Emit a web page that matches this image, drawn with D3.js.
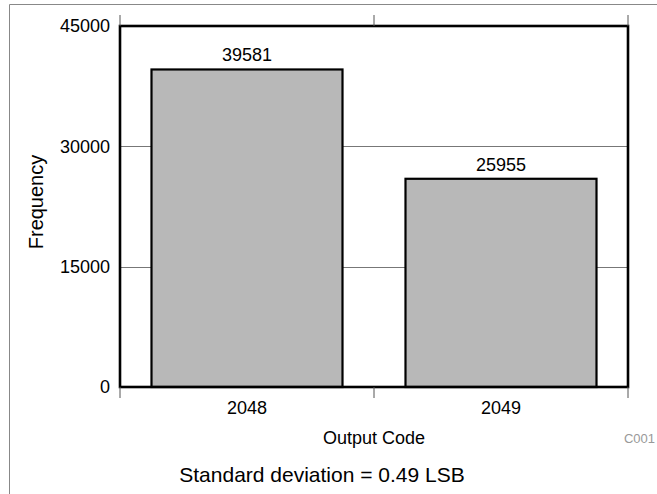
<!DOCTYPE html>
<html><head><meta charset="utf-8">
<script src="https://cdn.jsdelivr.net/npm/d3@7"></script>
<style>body{margin:0;background:#fff}svg{display:block}text{font-family:"Liberation Sans",Arial,sans-serif;fill:#000}</style>
</head><body>
<script>
const categories = ["2048", "2049"];
const frequencies = [39581, 25955];
const yTicks = [0, 15000, 30000, 45000];
const xTitle = "Output Code";
const yTitle = "Frequency";
const footnote = "Standard deviation = 0.49 LSB";
const chartId = "C001";

const W = 657, H = 494;
const m = {left:120, right:29, top:26, bottom:107};
const svg = d3.select("body").append("svg").attr("width", W).attr("height", H);

// outer frame (left and top only visible)
svg.append("line").attr("x1",9.5).attr("x2",9.5).attr("y1",4.5).attr("y2",H).attr("stroke","#888").attr("stroke-width",1);
svg.append("line").attr("x1",9.5).attr("x2",W).attr("y1",4.5).attr("y2",4.5).attr("stroke","#888").attr("stroke-width",1);

const x = d3.scaleBand().domain(categories).range([m.left, W-m.right]).paddingInner(0.248).paddingOuter(0.124);
const y = d3.scaleLinear().domain([0,45000]).range([H-m.bottom, m.top]);
const x0 = m.left, x1 = W-m.right, y0 = H-m.bottom, y1 = m.top;

// gridlines
svg.append("g").selectAll("line").data(yTicks.filter(t=>t>0 && t<45000)).join("line")
  .attr("x1",x0).attr("x2",x1).attr("y1",d=>Math.round(y(d))+0.5).attr("y2",d=>Math.round(y(d))+0.5)
  .attr("stroke","#777").attr("stroke-width",1);

// bars
svg.append("g").selectAll("rect").data(frequencies).join("rect")
  .attr("x",(d,i)=>x(categories[i])).attr("width",x.bandwidth())
  .attr("y",d=>y(d)).attr("height",d=>y(0)-y(d))
  .attr("fill","#b8b8b8").attr("stroke","#000").attr("stroke-width",2.2);

// value labels
svg.append("g").selectAll("text").data(frequencies).join("text")
  .attr("x",(d,i)=>x(categories[i])+x.bandwidth()/2).attr("y",d=>y(d)-8)
  .attr("text-anchor","middle").attr("font-size",18).text(d=>d);

// plot frame
svg.append("rect").attr("x",x0).attr("y",y1).attr("width",x1-x0).attr("height",y0-y1)
  .attr("fill","none").attr("stroke","#000").attr("stroke-width",2.6);

// y axis
const yAxis = d3.axisLeft(y).tickValues(yTicks).tickSize(0).tickPadding(10).tickFormat(d3.format("d"));
const gy = svg.append("g").attr("transform",`translate(${x0},0)`).call(yAxis);
gy.select(".domain").remove();
gy.selectAll("text").attr("font-size",18).attr("font-family",null);

// x axis labels at band centres
const xAxis = d3.axisBottom(x).tickSize(0).tickPadding(14);
const gx = svg.append("g").attr("transform",`translate(0,${y0})`).call(xAxis);
gx.select(".domain").remove();
gx.selectAll("text").attr("font-size",18).attr("font-family",null);

// band-edge tick marks
const edges = [x0, (x(categories[0])+x.bandwidth()+x(categories[1]))/2, x1];
svg.append("g").selectAll("line").data(edges).join("line")
  .attr("x1",d=>d).attr("x2",d=>d).attr("y1",y0).attr("y2",y0+11).attr("stroke","#555").attr("stroke-width",1);
svg.append("g").selectAll("line").data(edges).join("line")
  .attr("x1",d=>d).attr("x2",d=>d).attr("y1",y1-11).attr("y2",y1).attr("stroke","#555").attr("stroke-width",1);

// titles
svg.append("text").attr("x",(x0+x1)/2).attr("y",444).attr("text-anchor","middle").attr("font-size",18).text(xTitle);
svg.append("text").attr("transform",`translate(43,202) rotate(-90)`).attr("text-anchor","middle").attr("font-size",20).text(yTitle);
svg.append("text").attr("x",655).attr("y",443).attr("text-anchor","end").attr("font-size",13).style("fill","#999").text(chartId);
svg.append("text").attr("x",322).attr("y",482).attr("text-anchor","middle").attr("font-size",21).text(footnote);
</script>
</body></html>
